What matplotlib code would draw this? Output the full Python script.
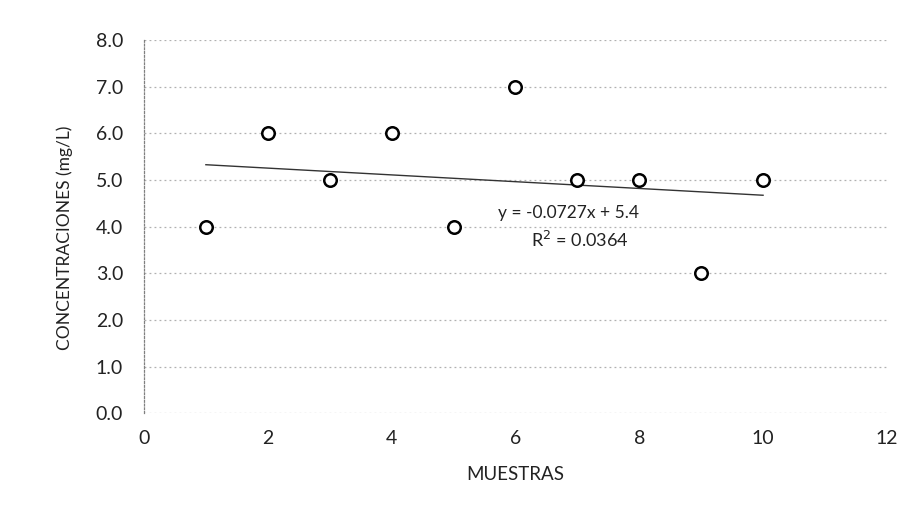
import numpy as np
import matplotlib
matplotlib.use("Agg")
import matplotlib.pyplot as plt
from matplotlib.ticker import FormatStrFormatter

plt.rcParams['font.family'] = ['Lato', 'DejaVu Sans']

# Sample numbers and measured concentrations
muestras = [1, 2, 3, 4, 5, 6, 7, 8, 9, 10]
concentraciones = [4.0, 6.0, 5.0, 6.0, 4.0, 7.0, 5.0, 5.0, 3.0, 5.0]
x_ticks = [0, 2, 4, 6, 8, 10, 12]
y_ticks = [0.0, 1.0, 2.0, 3.0, 4.0, 5.0, 6.0, 7.0, 8.0]

x = np.array(muestras, dtype=float)
y = np.array(concentraciones, dtype=float)

# Least-squares linear trend
slope, intercept = np.polyfit(x, y, 1)
r2 = np.corrcoef(x, y)[0, 1] ** 2

fig = plt.figure(figsize=(9.2, 5.07), dpi=100)
ax = fig.add_axes([0.1565, 0.185, 0.8075, 0.736])

ax.set_xlim(0, 12)
ax.set_ylim(0, 8)
ax.set_xticks(x_ticks)
ax.set_yticks(y_ticks)
ax.yaxis.set_major_formatter(FormatStrFormatter('%.1f'))

ax.grid(axis='y', color='#b0b0b0', linestyle=(0, (1.5, 2.5)), linewidth=0.9)
ax.set_axisbelow(True)

for side in ('top', 'right', 'bottom'):
    ax.spines[side].set_visible(False)
ax.spines['left'].set_color('#808080')
ax.spines['left'].set_linestyle((0, (1.5, 1.5)))
ax.spines['left'].set_linewidth(0.9)

ax.tick_params(axis='both', length=0, labelsize=14, colors='#222222')
ax.tick_params(axis='y', pad=15)
ax.tick_params(axis='x', pad=12)

xs = np.array([x.min(), x.max()])
ax.plot(xs, slope * xs + intercept, color='#333333', linewidth=1.0)

ax.plot(x, y, linestyle='none', marker='o', markersize=9,
        markerfacecolor='white', markeredgecolor='black', markeredgewidth=1.8)

ax.text(6.85, 4.29, f"y = {slope:.4f}x + {intercept:.1f}", ha='center', va='center',
        fontsize=12.5, color='#222222')
ax.text(7.04, 3.71, f"R$^2$ = {r2:.4f}", ha='center', va='center',
        fontsize=13, color='#222222')

ax.set_xlabel("MUESTRAS", fontsize=13.5, color='#222222', labelpad=14)
ax.set_ylabel("CONCENTRACIONES (mg/L)", fontsize=12.5, color='#222222')
ax.yaxis.set_label_coords(-0.096, 0.469)

fig.savefig("out.png", dpi=100, facecolor='white')
